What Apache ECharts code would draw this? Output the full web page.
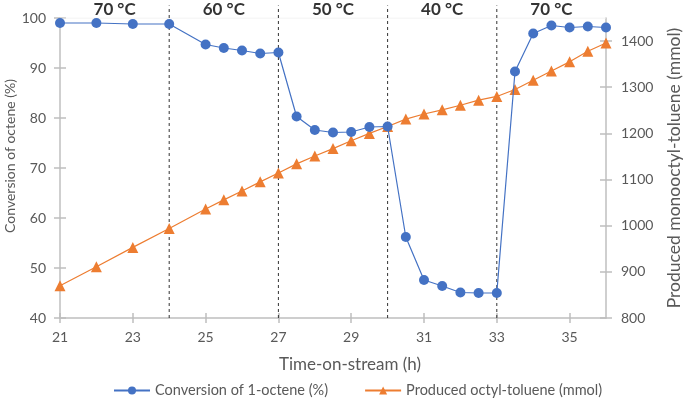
<!DOCTYPE html>
<html><head><meta charset="utf-8">
<script src="https://cdn.jsdelivr.net/npm/echarts@6/dist/echarts.min.js"></script>
<style>html,body{margin:0;padding:0;background:#fff}#c{width:685px;height:402px}</style>
</head><body><div id="c"></div>
<script>
const hours = [21,22,23,24,25,25.5,26,26.5,27,27.5,28,28.5,29,29.5,30,30.5,31,31.5,32,32.5,33,33.5,34,34.5,35,35.5,36];
const conversion = [99.0,99.0,98.8,98.8,94.7,94.0,93.5,92.9,93.1,80.3,77.6,77.1,77.2,78.2,78.3,56.2,47.6,46.4,45.1,45.0,45.0,89.3,96.9,98.5,98.1,98.3,98.1];
const produced = [870,911,953,994,1036,1056,1075,1095,1114,1134,1151,1167,1184,1200,1215,1231,1242,1251,1261,1272,1280,1295,1315,1335,1355,1378,1396];
const dividers = [24,27,30,33];
const phaseCenters = [22.5,25.5,28.5,31.5,34.5];
const phaseLabels = ['70 °C','60 °C','50 °C','40 °C','70 °C'];
const xTicks = [21,23,25,27,29,31,33,35];
const leftTicks = [40,50,60,70,80,90,100];
const rightTicks = [800,900,1000,1100,1200,1300,1400];
const seriesNames = ['Conversion of 1-octene (%)','Produced octyl-toluene (mmol)'];
const leftTitle = 'Conversion of octene (%)';
const rightTitle = 'Produced monooctyl-toluene (mmol)';
const xTitle = 'Time-on-stream (h)';

const FONT = 'Lato';
const AX = '#BFBFBF', TXT = '#595959';
const BLUE = '#4472C4', ORANGE = '#ED7D31';

const chart = echarts.init(document.getElementById('c'));
const baseX = {type:'value', min:21, max:36, position:'bottom', splitLine:{show:false}};
const series = [
  {type:'line', xAxisIndex:0, yAxisIndex:0, silent:true, symbol:'none',
   data:[[21,100],[36,100]], lineStyle:{color:'#F0F0F0', width:1}, z:1},
  {name:seriesNames[0], type:'line', xAxisIndex:0, yAxisIndex:0,
   data:hours.map((h,i)=>[h,conversion[i]]), symbol:'circle', symbolSize:10,
   lineStyle:{color:BLUE, width:1.2}, itemStyle:{color:BLUE}, z:5},
  {name:seriesNames[1], type:'line', xAxisIndex:0, yAxisIndex:1,
   data:hours.map((h,i)=>[h,produced[i]]), symbol:'triangle', symbolSize:11,
   lineStyle:{color:ORANGE, width:1.2}, itemStyle:{color:ORANGE}, z:4},
  {type:'scatter', xAxisIndex:0, yAxisIndex:0, clip:false, silent:true,
   data:phaseCenters.map((c,i)=>[c,101.6,phaseLabels[i]]), symbolSize:1,
   itemStyle:{color:'rgba(0,0,0,0)'},
   label:{show:true, position:'inside', formatter:p=>p.value[2], color:'#000', fontFamily:FONT, fontWeight:'bold', fontSize:17}}
];
dividers.forEach(d=>{
  series.push({type:'line', xAxisIndex:0, yAxisIndex:0, clip:false, silent:true, symbol:'none',
    data:[[d,40],[d,102.5]], lineStyle:{color:'#333', width:1, type:[3,3]}, z:3});
});

chart.setOption({
  animation:false,
  textStyle:{fontFamily:FONT},
  grid:{left:60, right:79, top:18, bottom:84, containLabel:false, outerBoundsMode:'none'},
  legend:{data:seriesNames, left:108, top:378, itemWidth:36, itemHeight:10, itemGap:36,
    textStyle:{color:TXT, fontSize:14.5, fontFamily:FONT}},
  graphic:[{type:'text', x:10, y:156, rotation:Math.PI/2,
    style:{text:leftTitle, fill:TXT, font:'14px Lato', align:'center', verticalAlign:'middle'}}],
  xAxis:[
    Object.assign({}, baseX, {
      name:xTitle, nameLocation:'middle', nameGap:38,
      nameTextStyle:{color:TXT, fontSize:17, fontFamily:FONT, padding:[0,0,0,34]},
      axisLine:{onZero:false, lineStyle:{color:AX, width:1.5}},
      axisTick:{show:true, length:5, customValues:xTicks, lineStyle:{color:AX, width:1.5}},
      axisLabel:{color:TXT, fontSize:14, margin:12, customValues:xTicks, fontFamily:FONT}}),
    Object.assign({}, baseX, {
      axisLine:{show:false, onZero:false},
      axisTick:{show:true, inside:true, length:5, customValues:xTicks, lineStyle:{color:AX, width:1.5}},
      axisLabel:{show:false}})
  ],
  yAxis:[
    {type:'value', position:'left', min:40, max:100, interval:10,
     axisLine:{show:true, lineStyle:{color:AX, width:1.5}},
     axisTick:{show:true, length:6, customValues:leftTicks, lineStyle:{color:AX, width:1.5}},
     axisLabel:{color:TXT, fontSize:14, margin:14, customValues:leftTicks, fontFamily:FONT},
     splitLine:{show:false}},
    {type:'value', position:'right', min:800, max:1450, interval:100,
     name:rightTitle, nameLocation:'middle', nameGap:59, nameRotate:90,
     nameTextStyle:{color:TXT, fontSize:17.5, fontFamily:FONT},
     axisLine:{show:true, lineStyle:{color:AX, width:1.5}},
     axisTick:{show:true, length:6, customValues:rightTicks, lineStyle:{color:AX, width:1.5}},
     axisLabel:{color:TXT, fontSize:14, margin:15, customValues:rightTicks, fontFamily:FONT, formatter:v=>String(v)},
     splitLine:{show:false}},
    {type:'value', position:'left', min:40, max:100, interval:10,
     axisLine:{show:false}, axisLabel:{show:false}, splitLine:{show:false},
     axisTick:{show:true, inside:true, length:6, customValues:leftTicks, lineStyle:{color:AX, width:1.5}}},
    {type:'value', position:'right', min:800, max:1450, interval:100,
     axisLine:{show:false}, axisLabel:{show:false}, splitLine:{show:false},
     axisTick:{show:true, inside:true, length:6, customValues:rightTicks, lineStyle:{color:AX, width:1.5}}}
  ],
  series:series
});
</script></body></html>
